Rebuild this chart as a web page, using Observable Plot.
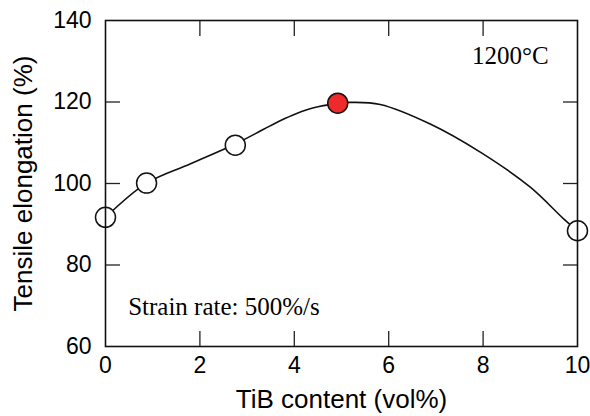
<!DOCTYPE html>
<html>
<head>
<meta charset="utf-8">
<script src="https://cdn.jsdelivr.net/npm/d3@7"></script>
<script src="https://cdn.jsdelivr.net/npm/@observablehq/plot@0.6"></script>
<style>
  html, body { margin: 0; padding: 0; background: #fff; }
  #chart svg { display: block; }
</style>
</head>
<body>
<div id="chart"></div>
<script>
// Measured points (TiB content vol%, tensile elongation %)
const tibContent = [0, 0.87, 2.75, 4.92, 10];
const elongation = [91.7, 100.1, 109.4, 119.7, 88.4];
const highlighted = [false, false, false, true, false];

// Fitted curve
const curveX = [0, 0.87, 1.79, 2.75, 3.35, 3.70, 4.05, 4.41, 4.92, 5.19, 5.82, 6.88, 7.94, 9.0, 9.7, 10];
const curveY = [91.7, 100.1, 104.8, 109.7, 113.3, 115.4, 117.2, 118.6, 119.6, 119.9, 119.4, 114.6, 107.7, 99.1, 91.4, 88.4];

// Axes
const xTickLabels = [0, 2, 4, 6, 8, 10];
const yTickLabels = [60, 80, 100, 120, 140];
const xInnerTicks = [2, 4, 6, 8];
const yInnerTicks = [80, 100, 120];

// Annotations
const tempLabel = ["1200°C"];
const tempX = [9.39];
const tempY = [131.3];
const rateLabel = ["Strain rate: 500%/s"];
const rateX = [0.48];
const rateY = [69.6];

const points = tibContent.map((x, i) => ({x, y: elongation[i], red: highlighted[i]}));
const curve = curveX.map((x, i) => ({x, y: curveY[i]}));
const tempNote = tempLabel.map((t, i) => ({t, x: tempX[i], y: tempY[i]}));
const rateNote = rateLabel.map((t, i) => ({t, x: rateX[i], y: rateY[i]}));

const sans = "'Liberation Sans', Arial, Helvetica, sans-serif";
const serif = "'Liberation Serif', 'Times New Roman', serif";

const chart = Plot.plot({
  width: 590,
  height: 416,
  marginLeft: 105,
  marginRight: 13,
  marginTop: 20,
  marginBottom: 70,
  style: {fontFamily: sans, color: "#000", background: "#fff"},
  x: {domain: [0, 10]},
  y: {domain: [60, 140]},
  marks: [
    // tick labels
    Plot.axisX(xTickLabels, {anchor: "bottom", tickSize: 0, tickPadding: 10, fontSize: 23, label: null}),
    Plot.axisY(yTickLabels, {anchor: "left", tickSize: 0, tickPadding: 14, fontSize: 23, label: null}),
    // inward ticks on all four sides
    Plot.axisX(xInnerTicks, {anchor: "bottom", tickSize: -15, text: null, label: null, stroke: "#222", strokeWidth: 1.3}),
    Plot.axisX(xInnerTicks, {anchor: "top", tickSize: -15, text: null, label: null, stroke: "#222", strokeWidth: 1.3}),
    Plot.axisY(yInnerTicks, {anchor: "left", tickSize: -15, text: null, label: null, stroke: "#222", strokeWidth: 1.3}),
    Plot.axisY(yInnerTicks, {anchor: "right", tickSize: -15, text: null, label: null, stroke: "#222", strokeWidth: 1.3}),
    // axis titles
    Plot.text(["TiB content (vol%)"], {frameAnchor: "bottom", dy: 61, textAnchor: "middle", lineAnchor: "bottom", fontSize: 26, fontFamily: sans}),
    Plot.text(["Tensile elongation (%)"], {frameAnchor: "left", dx: -82, rotate: -90, textAnchor: "middle", lineAnchor: "middle", fontSize: 26, fontFamily: sans}),
    // curve and points
    Plot.line(curve, {x: "x", y: "y", curve: "catmull-rom", stroke: "#111", strokeWidth: 1.6}),
    Plot.dot(points, {x: "x", y: "y", r: 10, fill: d => d.red ? "#ee2a2a" : "#fff", stroke: "#111", strokeWidth: 1.5}),
    // annotations
    Plot.text(tempNote, {x: "x", y: "y", text: "t", textAnchor: "end", fontFamily: serif, fontSize: 25, lineAnchor: "middle"}),
    Plot.text(rateNote, {x: "x", y: "y", text: "t", textAnchor: "start", fontFamily: serif, fontSize: 25, lineAnchor: "middle"}),
    Plot.frame({stroke: "#111", strokeWidth: 1.6})
  ]
});

document.getElementById("chart").appendChild(chart);
</script>
</body>
</html>
